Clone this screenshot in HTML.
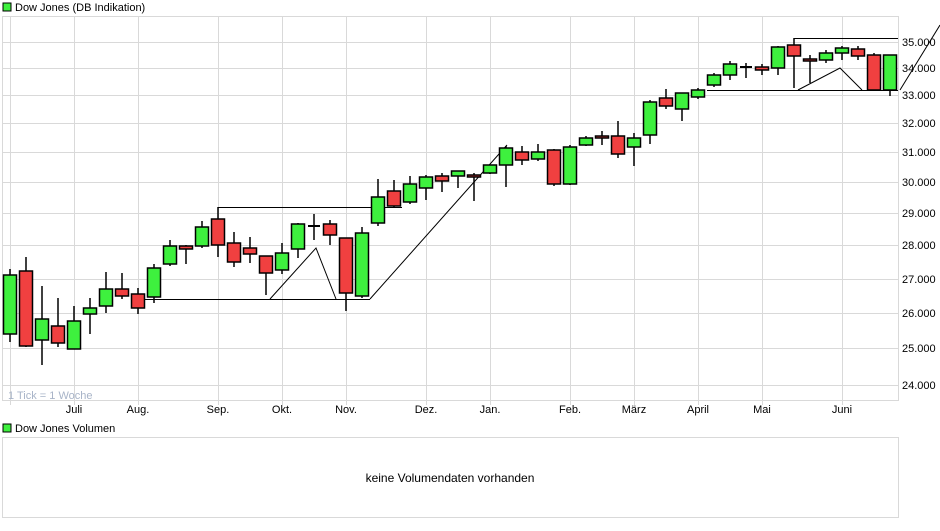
<!DOCTYPE html>
<html><head><meta charset="utf-8"><style>
body{margin:0;background:#fff;width:940px;height:526px;overflow:hidden;font-family:"Liberation Sans",sans-serif}
</style></head><body>
<svg width="940" height="526" xmlns="http://www.w3.org/2000/svg" font-family="Liberation Sans, sans-serif" font-size="11">
<rect x="3" y="3" width="8" height="8" fill="#3ef03e" stroke="#000" stroke-width="1"/>
<text x="15" y="11" fill="#000">Dow Jones (DB Indikation)</text>
<g stroke="#d9d9d9" stroke-width="1" fill="none">
<rect x="2.5" y="16.5" width="896" height="384"/>
<path d="M3 42.5H898M3 68.5H898M3 95.5H898M3 123.5H898M3 152.5H898M3 182.5H898M3 213.5H898M3 245.5H898M3 279.5H898M3 313.5H898M3 348.5H898M3 385.5H898"/>
<path d="M10.5 16V405M74.5 16V405M138.5 16V405M218.5 16V405M282.5 16V405M346.5 16V405M426.5 16V405M490.5 16V405M570.5 16V405M634.5 16V405M698.5 16V405M762.5 16V405M842.5 16V405"/>
</g>
<g fill="#000" text-anchor="middle">
<text x="74" y="413">Juli</text><text x="138" y="413">Aug.</text><text x="218" y="413">Sep.</text><text x="282" y="413">Okt.</text><text x="346" y="413">Nov.</text><text x="426" y="413">Dez.</text><text x="490" y="413">Jan.</text><text x="570" y="413">Feb.</text><text x="634" y="413">März</text><text x="698" y="413">April</text><text x="762" y="413">Mai</text><text x="842" y="413">Juni</text>
</g>
<g fill="#000">
<text x="902" y="46">35.000</text><text x="902" y="72">34.000</text><text x="902" y="99">33.000</text><text x="902" y="127">32.000</text><text x="902" y="156">31.000</text><text x="902" y="186">30.000</text><text x="902" y="217">29.000</text><text x="902" y="249">28.000</text><text x="902" y="283">27.000</text><text x="902" y="317">26.000</text><text x="902" y="352">25.000</text><text x="902" y="389">24.000</text>
</g>
<text x="8" y="399" fill="#a8b4c8">1 Tick = 1 Woche</text>
<g stroke="#000" stroke-width="1" fill="none">
<path d="M218 207.5H402M145 299.5H370M270 299L316 248L336 299M370 299L507 145M794 38.5H898M707 90.5H898M798 90L840 68L862 90M900 90L940 25"/>
</g>
<g id="c" stroke="#000" stroke-width="1.5"></g>
<rect x="2.5" y="437.5" width="896" height="80" fill="none" stroke="#d9d9d9"/>
<rect x="3" y="424" width="8" height="8" fill="#3ef03e" stroke="#000" stroke-width="1"/>
<text x="15" y="432" fill="#000">Dow Jones Volumen</text>
<text x="450" y="482" text-anchor="middle" font-size="12" fill="#000">keine Volumendaten vorhanden</text>
</svg>
<script>
var d=[
['g',275,334,269,342],['r',271,346,257,347],['g',319,340,286,365],['r',326,343,298,347],['g',321,349,306,349],
['g',308,314,298,334],['g',289,306,272,313],['r',289,296,273,299],['r',294,308,288,314],['g',268,297,264,303],
['g',246,264,240,266],['r',246,249,245,264],['g',227,246,221,248],['r',219,245,207,257],['r',243,262,232,267],
['r',248,254,237,263],['r',256,273,256,295],['g',253,270,243,274],['g',224,249,223,258],['d',226,226,214,240],
['r',224,235,220,245],['r',238,293,238,311],['g',233,296,227,298],['g',197,223,179,226],['r',191,206,180,207],
['g',184,202,176,204],['g',177,188,175,200],['r',176,181,173,192],['g',171,176,171,188],['r',175,177,173,201],
['g',165,173,165,174],['g',148,165,146,187],['r',152,160,146,165],['g',152,159,144,161],['r',150,184,149,186],
['g',147,184,145,185],['g',138,145,136,146],['r',136,138,131,145],['r',136,154,121,158],['g',138,147,133,166],
['g',102,135,100,144],['r',98,106,89,109],['g',93,109,93,121],['g',90,97,88,99],['g',75,85,73,87],
['g',64,75,61,80],['d',67,67,63,78],['r',67,70,64,75],['g',47,68,46,75],['r',45,56,38,88],
['r',59,61,55,83],['g',53,60,50,63],['g',48,53,46,60],['r',49,56,46,60],['r',55,90,53,90],['g',55,90,55,96]];
var s='';
d.forEach(function(c,i){var x=10+16*i;
s+='<line x1="'+x+'" x2="'+x+'" y1="'+c[3]+'" y2="'+c[4]+'"/>';
if(c[0]=='d'){s+='<line x1="'+(x-6)+'" x2="'+(x+6)+'" y1="'+c[1]+'" y2="'+c[1]+'" stroke-width="2"/>';}
else{var h=Math.max(c[2]-c[1],2);s+='<rect x="'+(x-6.5)+'" y="'+c[1]+'" width="13" height="'+h+'" fill="'+(c[0]=='g'?'#3ef03e':'#f04040')+'"/>';}
});
document.getElementById('c').innerHTML=s;
</script>
</body></html>
